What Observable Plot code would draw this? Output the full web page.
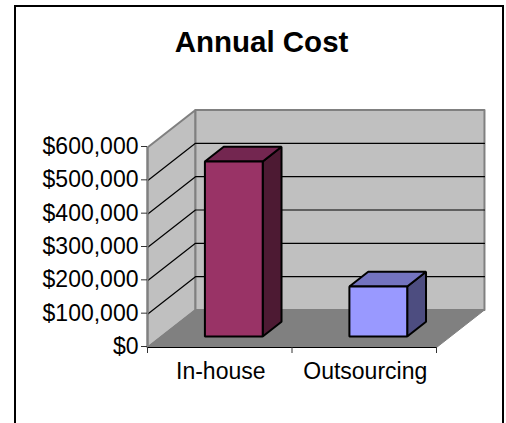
<!DOCTYPE html>
<html>
<head>
<meta charset="utf-8">
<script src="https://cdn.jsdelivr.net/npm/d3@7"></script>
<script src="https://cdn.jsdelivr.net/npm/@observablehq/plot@0.6"></script>
<style>
html,body{margin:0;padding:0;background:#fff;overflow:hidden}
#box{position:absolute;left:14px;top:5px;width:486px;height:440px;border:2.5px solid #000;box-sizing:content-box}
#chart{position:absolute;left:0;top:0}
</style>
</head>
<body>
<div id="box"></div>
<div id="chart"></div>
<script>
const chartTitle = "Annual Cost";
const categories = ["In-house", "Outsourcing"];
const annualCost = [525000, 150000];
const yTicks = [0, 100000, 200000, 300000, 400000, 500000, 600000];
const xEdges = [0, 1, 2];
const xCentres = [0.5, 1.5];
const frontColors = ["#993366", "#9999ff"];
const topColors = ["#732650", "#7373bf"];
const sideColors = ["#4d1a33", "#4d4d80"];

// Oblique projection, in data units: how far one unit of depth moves x and y.
const depthX = 0.332, depthY = 112500;
const yMax = 600000, xMax = 2;
const barHalf = 0.2, barNear = 0.293, barFar = 0.685;

const P = (x, v, d = 0) => ({x: x + d * depthX, y: v + d * depthY});
const poly = (pts, o) => Plot.line(pts, {x: "x", y: "y", curve: "linear-closed", ...o});
const open = (pts, o) => Plot.line(pts, {x: "x", y: "y", ...o});

const walls = [
  poly([P(0,0,0),P(0,yMax,0),P(0,yMax,1),P(0,0,1)], {fill:"#c0c0c0", stroke:"#808080", strokeWidth:2}),
  poly([P(0,0,1),P(0,yMax,1),P(xMax,yMax,1),P(xMax,0,1)], {fill:"#c0c0c0", stroke:"#808080", strokeWidth:2}),
  poly([P(0,0,0),P(xMax,0,0),P(xMax,0,1),P(0,0,1)], {fill:"#808080", stroke:"#808080", strokeWidth:1})
];
const grid = yTicks.filter(v => v > 0 && v < yMax).map(v =>
  open([P(0,v,0),P(0,v,1),P(xMax,v,1)], {stroke:"#000", strokeWidth:1.2}));

const bars = categories.flatMap((c, i) => {
  const a = xCentres[i] - barHalf, b = xCentres[i] + barHalf, v = annualCost[i];
  const s = {stroke:"#000", strokeWidth:2, strokeLinejoin:"miter"};
  return [
    poly([P(b,0,barNear),P(b,v,barNear),P(b,v,barFar),P(b,0,barFar)], {fill:sideColors[i], ...s}),
    poly([P(a,v,barNear),P(b,v,barNear),P(b,v,barFar),P(a,v,barFar)], {fill:topColors[i], ...s}),
    poly([P(a,0,barNear),P(b,0,barNear),P(b,v,barNear),P(a,v,barNear)], {fill:frontColors[i], ...s})
  ];
});

const plot = Plot.plot({
  width: 506, height: 423,
  marginLeft: 147, marginRight: 70, marginTop: 147, marginBottom: 76,
  x: {domain: [0, xMax]},
  y: {domain: [0, yMax]},
  style: {fontFamily: "'Liberation Sans', Arial, sans-serif", background: "transparent", color: "#000"},
  marks: [
    ...walls,
    ...grid,
    ...bars,
    Plot.ruleY([0], {stroke:"#000", strokeWidth:1.2}),
    Plot.ruleX([0], {y1:0, y2:yMax, stroke:"#808080", strokeWidth:2}),
    Plot.axisY({ticks: yTicks, tickSize: 6, tickPadding: 3, stroke:"#333", fontSize: 23, lineWidth: 20, marginLeft: 147, label: null, tickFormat: d3.format("$,"), textStroke: "none", dy: -1}),
    Plot.axisX({ticks: xEdges, tickSize: 6, tickFormat: () => "", stroke:"#333", label: null}),
    Plot.axisX({ticks: xCentres, tickSize: 0, tickPadding: 15, fontSize: 23, label: null, dx: 1, tickFormat: d => categories[xCentres.indexOf(d)]}),
    Plot.text([chartTitle], {text: d => d, frameAnchor: "top-left", dx: 114, dy: -96, fontSize: 29.5, fontWeight: "bold", textAnchor: "middle", lineAnchor: "bottom"})
  ]
});
document.getElementById("chart").appendChild(plot);
</script>
</body>
</html>
